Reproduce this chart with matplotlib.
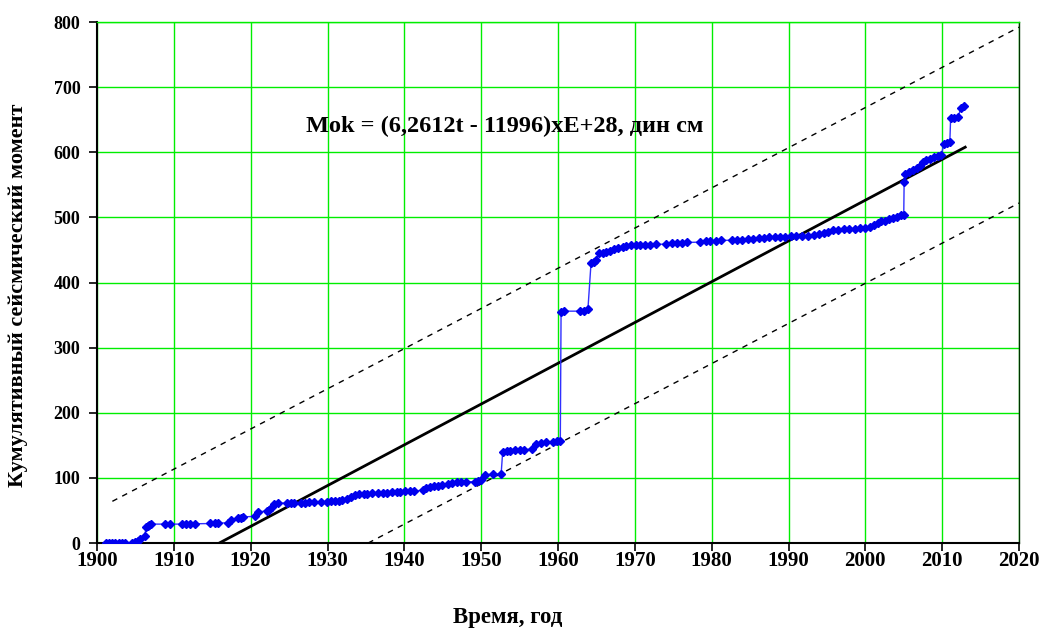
import matplotlib
matplotlib.use("Agg")
import matplotlib.pyplot as plt

plt.rcParams['font.family'] = ['Liberation Serif', 'DejaVu Serif']
plt.rcParams['font.weight'] = 'bold'

# Cumulative seismic moment (x E+28 dyn cm) by year
years = [
    1901.2, 1901.6, 1902.0, 1902.4, 1902.8, 1903.2, 1903.6,
    1904.6, 1905.0, 1905.3, 1905.6, 1906.2,
    1906.4, 1906.6, 1906.8, 1907.0,
    1908.9, 1909.5,
    1911.1, 1911.6, 1912.1, 1912.7,
    1914.7, 1915.3, 1915.8,
    1917.0, 1917.4, 1918.4, 1918.7, 1919.0,
    1920.6, 1920.9, 1922.1, 1922.4, 1922.8, 1923.1, 1923.5,
    1924.7, 1925.2, 1925.6,
    1926.6, 1927.1, 1927.6, 1928.2,
    1929.2, 1929.9, 1930.5, 1931.0, 1931.5, 1931.9,
    1932.5, 1933.0, 1933.6, 1934.1, 1934.7, 1935.2, 1935.8,
    1936.6, 1937.2, 1937.8, 1938.4, 1939.0, 1939.5, 1940.1, 1940.7, 1941.3,
    1942.4, 1942.8, 1943.3, 1943.9, 1944.4, 1944.9,
    1945.7, 1946.2, 1946.8, 1947.4, 1948.0,
    1949.2, 1949.6, 1950.0,
    1950.5, 1951.6, 1952.6,
    1952.8, 1953.3, 1953.8, 1954.4, 1955.0, 1955.6,
    1956.6, 1957.2, 1957.8, 1958.4,
    1959.4, 1959.9, 1960.3,
    1960.4, 1960.8,
    1962.9, 1963.4, 1963.9,
    1964.3, 1964.7, 1965.0,
    1965.3, 1965.8, 1966.3, 1966.8,
    1967.3, 1967.8, 1968.4, 1968.9, 1969.5, 1970.1, 1970.7,
    1971.3, 1972.0, 1972.8,
    1974.1, 1974.8, 1975.5, 1976.2, 1976.8,
    1978.5, 1979.2, 1979.8, 1980.5, 1981.2,
    1982.6, 1983.3, 1984.0, 1984.7, 1985.4, 1986.1, 1986.8, 1987.5,
    1988.2, 1988.9, 1989.6, 1990.3, 1991.0, 1991.8,
    1992.6, 1993.3, 1994.0, 1994.6, 1995.2, 1995.8, 1996.5, 1997.2,
    1997.9, 1998.6, 1999.3, 2000.0, 2000.6, 2001.1, 2001.6, 2002.1,
    2002.6, 2003.1, 2003.6, 2004.1, 2004.6, 2005.0,
    2005.05, 2005.2, 2005.7, 2006.2, 2006.7, 2007.1,
    2007.5, 2007.9, 2008.4, 2008.9, 2009.4, 2009.9,
    2010.2, 2010.6, 2011.0,
    2011.1, 2011.6, 2012.1,
    2012.4, 2012.9,
]
moment = [
    0, 0, 0, 0, 0, 0, 0,
    0.5, 1, 3, 6, 10,
    25, 26, 27.5, 29,
    29, 29,
    29, 29, 29.5, 29.5,
    30, 30, 30.5,
    31, 35, 38, 39, 40,
    41, 48, 49, 51, 55, 60, 61,
    61.5, 62, 62,
    62, 62, 62.5, 63,
    63, 63.5, 64, 64.5, 65, 66,
    68, 70, 74, 76, 76, 76, 76.5,
    76.5, 77, 77.5, 78, 78.5, 79, 79.5, 80, 80,
    81, 84, 86, 87, 88, 89,
    90, 92, 93, 93.5, 94,
    94, 95, 97,
    105, 105.5, 106,
    140, 141, 142, 143, 143, 143.5,
    144, 152, 154, 155,
    155.5, 156, 156.5,
    355, 356,
    356, 357, 360,
    430, 432, 434,
    445, 446, 447, 448,
    451, 453, 455, 456, 457, 457, 458,
    458, 458, 458.5,
    459, 460, 460, 461, 461.5,
    462, 463, 464, 464, 464.5,
    465, 465.5, 466, 467, 467.5, 468, 469, 469.5,
    470, 470, 470.5, 471, 471, 471.5,
    472, 473, 474, 476, 478, 480, 481, 482,
    482, 482.5, 483, 483.5, 485, 488, 492, 494,
    495, 497, 499, 501, 503, 504,
    555, 567, 569, 572, 576, 579,
    585, 588, 590, 592, 594, 596,
    612, 614, 616,
    652, 653, 654,
    668, 671,
]

# Linear trend Mok = 6.2612 t - 11996 and its bounding band
trend_slope = 6.2612
trend_intercept = -11996
trend_span = [1916, 2013]
upper_band_t = [1902, 2020]
upper_band_m = [64, 792]
lower_band_t = [1935.3, 2020]
lower_band_m = [0, 522]

x_ticks = list(range(1900, 2021, 10))
y_ticks = list(range(0, 801, 100))

fig = plt.figure(figsize=(10.44, 6.3), dpi=100)
ax = fig.add_axes([97 / 1044, 1 - 543 / 630, (1019 - 97) / 1044, (543 - 22) / 630])

ax.set_xlim(1900, 2020)
ax.set_ylim(0, 800)
ax.set_xticks(x_ticks)
ax.set_yticks(y_ticks)
ax.grid(True, color='#00ee00', linewidth=1.0)
ax.set_axisbelow(True)

trend_m = [trend_slope * t + trend_intercept for t in trend_span]
ax.plot(trend_span, trend_m, color='black', linewidth=2.0, zorder=3)
ax.plot(upper_band_t, upper_band_m, color='black', linewidth=1.0,
        dashes=(4, 4), zorder=3)
ax.plot(lower_band_t, lower_band_m, color='black', linewidth=1.0,
        dashes=(4, 4), zorder=3)

ax.plot(years, moment, color='#3030ff', linewidth=1.0, marker='D',
        markersize=4.5, markerfacecolor='#0000ee', markeredgecolor='#0000ee',
        zorder=4)

ax.text(1953, 640, 'Mok = (6,2612t - 11996)xE+28, дин см', ha='center',
        va='center', fontsize=17.5, fontweight='bold')

for side in ['left', 'bottom']:
    ax.spines[side].set_color('black')
    ax.spines[side].set_linewidth(1.5)
ax.spines['right'].set_color('#003300')
ax.spines['right'].set_linewidth(1.0)
ax.spines['top'].set_color('#00ee00')
ax.spines['top'].set_linewidth(1.0)

ax.tick_params(axis='both', direction='out', length=6, width=1.2,
               colors='black')
ax.tick_params(axis='x', pad=0, labelsize=15)
ax.tick_params(axis='y', pad=6, labelsize=13)
for lbl in ax.get_xticklabels() + ax.get_yticklabels():
    lbl.set_fontweight('bold')

ax.set_xlabel('Время, год', fontsize=16.5, fontweight='bold')
ax.set_ylabel('Кумулятивный сейсмический момент', fontsize=16,
              fontweight='bold')
ax.xaxis.set_label_coords((508 - 97) / 922, (543 - 618) / 521)
ax.yaxis.set_label_coords((18 - 97) / 922, (543 - 295) / 521)
ax.xaxis.label.set_va('center')
ax.yaxis.label.set_va('center')

fig.savefig('out.png', dpi=100)
